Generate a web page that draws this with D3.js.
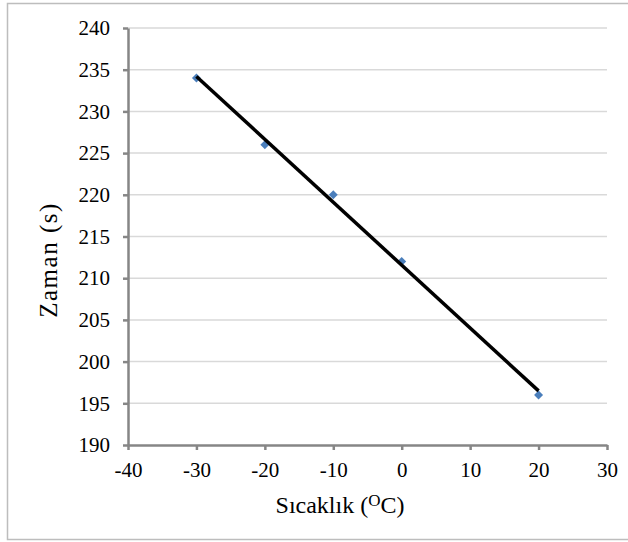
<!DOCTYPE html>
<html>
<head>
<meta charset="utf-8">
<script src="https://cdn.jsdelivr.net/npm/d3@7"></script>
<style>
  body { margin: 0; background: #fff; }
  text { font-family: "Liberation Serif", "DejaVu Serif", serif; fill: #000; }
</style>
</head>
<body>
<svg id="chart" width="628" height="542"></svg>
<script>
// measured data
const temps = [-30, -20, -10, 0, 20];
const times = [234, 226, 220, 212, 196];
const xTicks = [-40, -30, -20, -10, 0, 10, 20, 30];
const yTicks = [190, 195, 200, 205, 210, 215, 220, 225, 230, 235, 240];

const svg = d3.select('#chart');

// outer frame
svg.append('rect')
  .attr('x', 7.5).attr('y', 3.5)
  .attr('width', 640).attr('height', 536)
  .attr('fill', 'none').attr('stroke', '#bdbdbd').attr('stroke-width', 1.5);

const x = d3.scaleLinear().domain([-40, 30]).range([128, 607]);
const y = d3.scaleLinear().domain([190, 240]).range([445, 28]);

// gridlines
svg.append('g').selectAll('line')
  .data(yTicks.filter(d => d > 190))
  .enter().append('line')
    .attr('x1', x(-40)).attr('x2', x(30))
    .attr('y1', d => y(d)).attr('y2', d => y(d))
    .attr('stroke', '#d9d9d9').attr('stroke-width', 1.5);

// axes
const yAxis = svg.append('g')
  .attr('transform', `translate(${x(-40)},0)`)
  .call(d3.axisLeft(y).tickValues(yTicks).tickSize(5).tickPadding(13).tickSizeOuter(0));
const xAxis = svg.append('g')
  .attr('transform', `translate(0,${y(190)})`)
  .call(d3.axisBottom(x).tickValues(xTicks).tickSize(5).tickPadding(12).tickSizeOuter(0)
    .tickFormat(d3.format('d')));

[xAxis, yAxis].forEach(g => {
  g.attr('font-family', null);
  g.select('.domain').attr('stroke', '#868686').attr('stroke-width', 2.5);
  g.selectAll('.tick line').attr('stroke', '#868686').attr('stroke-width', 2.5);
  g.selectAll('text')
    .style('font-family', '"Liberation Serif", "DejaVu Serif", serif')
    .style('font-size', '21px').attr('fill', '#000');
});
xAxis.selectAll('text').text(d => d < 0 ? '-' + Math.abs(d) : d);

// least squares trendline
const mx = d3.mean(temps), my = d3.mean(times);
const slope = d3.sum(temps, (t, i) => (t - mx) * (times[i] - my)) / d3.sum(temps, t => (t - mx) ** 2);
const fit = t => my + slope * (t - mx);
const ends = d3.extent(temps);

// markers
svg.append('g').selectAll('path')
  .data(temps)
  .enter().append('path')
    .attr('d', d3.symbol(d3.symbolSquare, 40))
    .attr('transform', (d, i) => `translate(${x(d)},${y(times[i])}) rotate(45)`)
    .attr('fill', '#4a7ebb');

svg.append('line')
  .attr('x1', x(ends[0])).attr('y1', y(fit(ends[0])))
  .attr('x2', x(ends[1])).attr('y2', y(fit(ends[1])))
  .attr('stroke', '#000').attr('stroke-width', 3.5);

// axis titles
const xt = svg.append('text')
  .attr('x', 340).attr('y', 513)
  .attr('text-anchor', 'middle')
  .style('font-size', '24px');
xt.append('tspan').text('Sıcaklık (');
xt.append('tspan').text('O').style('font-size', '17px').attr('dy', -7);
xt.append('tspan').text('C)').attr('dy', 7);

svg.append('text')
  .attr('transform', 'translate(57,260) rotate(-90)')
  .attr('text-anchor', 'middle')
  .style('font-size', '25px')
  .style('letter-spacing', '1.5px')
  .text('Zaman (s)');
</script>
</body>
</html>
